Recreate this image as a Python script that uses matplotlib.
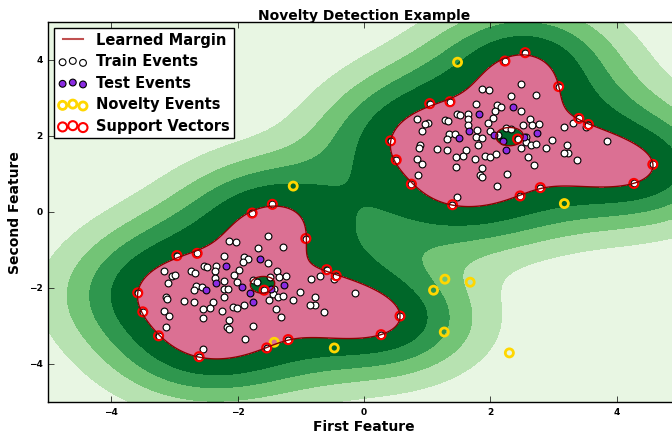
import numpy as np
import matplotlib
matplotlib.use('Agg')
import matplotlib.pyplot as plt
from matplotlib.lines import Line2D

plt.style.use('classic')

# ---- data ----
# support vectors (training events lying on the margin)
sv_x = [2.55, 2.23, 3.08, 1.04, 1.36, 3.40, 3.55, 0.42, 0.51, 0.75, 1.40, 2.47, 2.79, 4.27, 4.57, 2.43,
        -1.45, -1.77, -0.92, -2.96, -2.64, -0.59, -0.44, -3.58, -3.50, -3.25, -2.61, -1.54, -1.20, 0.27, 0.57, -1.58]
sv_y = [4.20, 3.98, 3.31, 2.86, 2.91, 2.47, 2.31, 1.88, 1.38, 0.74, 0.20, 0.43, 0.65, 0.76, 1.26, 1.93,
        0.21, -0.02, -0.69, -1.14, -1.08, -1.51, -1.67, -2.12, -2.62, -3.25, -3.80, -3.57, -3.35, -3.22, -2.73, -2.05]

# other training events
train_x = [2.48, 1.87, 1.97, 2.33, 2.72, 1.78, 2.10, 2.16, 2.08, 2.48, 0.84, 1.01, 0.97, 1.28, 1.33, 1.47,
           1.52, 1.65, 1.64, 2.04, 1.96, 1.65, 2.52, 2.63, 2.66, 2.77, 3.16, 3.30, 3.52, 0.91, 1.35, 1.44,
           1.32, 1.79, 1.99, 2.25, 2.33, 2.12, 1.78, 1.86, 2.57, 2.56, 2.65, 2.72, 2.98, 2.88, 3.21, 3.23,
           3.16, 3.37, 3.84, 0.89, 0.87, 1.15, 1.32, 1.61, 1.80, 1.57, 1.45, 1.75, 1.92, 2.00, 2.09, 2.49,
           2.60, 2.69, 0.84, 0.92, 1.45, 1.87, 1.83, 1.87, 2.26, 2.11, 1.47, 0.86,
           -1.52, -2.13, -2.03, -1.68, -1.28, -2.22, -1.90, -1.84, -1.92, -1.52, -3.17, -3.04, -2.99, -2.73,
           -2.68, -2.53, -2.48, -2.34, -2.36, -1.97, -2.05, -2.36, -1.49, -1.38, -1.34, -1.24, -0.84, -0.70,
           -0.47, -3.10, -2.66, -2.56, -2.69, -2.21, -2.01, -1.75, -1.69, -2.22, -2.15, -1.43, -1.44, -1.36,
           -1.28, -1.02, -1.13, -0.78, -0.77, -0.86, -0.64, -0.15, -3.13, -3.11, -2.85, -2.69, -2.39, -2.21,
           -2.43, -2.55, -2.24, -2.07, -2.01, -1.90, -1.51, -1.40, -1.31, -3.17, -3.09, -2.55, -2.14, -2.17,
           -2.13, -1.75, -1.88, -2.55, -3.14]
train_y = [3.37, 3.24, 3.21, 3.06, 3.08, 2.86, 2.82, 2.77, 2.67, 2.66, 2.45, 2.34, 2.32, 2.43, 2.40, 2.58,
           2.56, 2.60, 2.45, 2.49, 2.36, 2.29, 2.31, 2.46, 2.30, 2.32, 2.25, 2.35, 2.25, 2.14, 2.07, 2.06,
           1.94, 2.17, 2.15, 2.22, 2.20, 2.04, 1.97, 1.96, 1.97, 1.86, 1.76, 1.79, 1.90, 1.68, 1.76, 1.57,
           1.56, 1.38, 1.88, 1.76, 1.70, 1.67, 1.64, 1.63, 1.76, 1.48, 1.45, 1.41, 1.49, 1.46, 1.54, 1.68,
           1.45, 1.25, 1.41, 1.27, 1.20, 1.17, 0.98, 0.94, 1.00, 0.68, 0.39, 0.97,
           -0.63, -0.76, -0.79, -0.93, -0.92, -1.15, -1.17, -1.23, -1.32, -1.33, -1.55, -1.68, -1.65, -1.55,
           -1.60, -1.41, -1.43, -1.40, -1.55, -1.51, -1.65, -1.73, -1.71, -1.55, -1.69, -1.68, -1.75, -1.67,
           -1.75, -1.87, -1.93, -1.96, -2.05, -1.81, -1.83, -1.78, -1.83, -2.03, -2.02, -2.03, -2.16, -2.24,
           -2.20, -2.09, -2.32, -2.23, -2.43, -2.44, -2.62, -2.12, -2.23, -2.29, -2.33, -2.36, -2.37, -2.23,
           -2.52, -2.54, -2.59, -2.49, -2.53, -2.45, -2.32, -2.55, -2.76, -2.59, -2.72, -2.79, -2.83, -3.01,
           -3.08, -2.99, -3.33, -3.61, -3.03]

# test events
test_x = [1.82, 2.35, 1.66, 1.50, 2.06, 2.20, 2.24, 2.53, 2.74,
          -2.18, -1.65, -2.34, -2.50, -1.93, -1.80, -1.76, -1.47, -1.26]
test_y = [2.60, 2.76, 2.15, 1.96, 2.04, 1.88, 1.64, 1.99, 2.09,
          -1.40, -1.24, -1.85, -2.04, -1.96, -2.13, -2.36, -2.01, -1.90]

# novelty events
novel_x = [3.17, 1.28, 1.10, 1.68, 1.27, 2.30, 1.48, -1.42, -0.47, -1.12]
novel_y = [0.23, -1.76, -2.05, -1.84, -3.15, -3.70, 3.95, -3.42, -3.57, 0.69]

gamma = 0.5

# ---- decision surface: rbf kernel on the support vectors ----
sx = np.array(sv_x)
sy = np.array(sv_y)
K = np.exp(-gamma * ((sx[:, None] - sx[None, :])**2 + (sy[:, None] - sy[None, :])**2))
# non-negative weights so that the surface is ~1 on every support vector
alpha = np.ones(len(sx))
target = np.ones(len(sx))
for i in range(2000):
    alpha *= (K.T @ target) / (K.T @ K @ alpha + 1e-12)

xx, yy = np.meshgrid(np.linspace(-5, 5, 500), np.linspace(-5, 5, 500))
Z = np.zeros_like(xx)
for a, b, w in zip(sx, sy, alpha):
    Z += w * np.exp(-gamma * ((xx - a)**2 + (yy - b)**2))
Z = Z - 1.0

greens = ['#e8f6e3', '#b7e2b1', '#73c476', '#2f974e', '#006729']

fig = plt.figure(figsize=(6.72, 4.37), dpi=100)
ax = fig.add_axes([48/672., 34.7/437., 632/672., 380/437.])

ax.contourf(xx, yy, Z, levels=np.linspace(Z.min(), 0, 6), colors=greens)
ax.contourf(xx, yy, Z, levels=[0, Z.max()], colors='palevioletred')

ax.scatter(train_x + sv_x, train_y + sv_y, c='white', s=24, edgecolors='k', linewidths=0.8, zorder=3)
ax.scatter(test_x, test_y, c='blueviolet', s=24, edgecolors='k', linewidths=0.8, zorder=3)
ax.scatter(novel_x, novel_y, c='none', s=34, edgecolors='gold', linewidths=2, zorder=3)
ax.scatter(sv_x, sv_y, c='none', s=42, edgecolors='red', linewidths=1.5, zorder=4)
ax.contour(xx, yy, Z, levels=[0], linewidths=1, colors='darkred', zorder=5)

handles = [Line2D([], [], color='#c05050', lw=1.5),
           plt.scatter([], [], c='white', s=24, edgecolors='k', linewidths=0.8),
           plt.scatter([], [], c='blueviolet', s=24, edgecolors='k', linewidths=0.8),
           plt.scatter([], [], c='none', s=34, edgecolors='gold', linewidths=2),
           plt.scatter([], [], c='none', s=42, edgecolors='red', linewidths=1.5)]
labels = ['Learned Margin', 'Train Events', 'Test Events', 'Novelty Events', 'Support Vectors']
leg = ax.legend(handles, labels, loc='upper left', prop={'weight': 'bold', 'size': 10.5},
                borderaxespad=0.4, borderpad=0.3, handletextpad=0.6, labelspacing=0.45)
leg.get_frame().set_edgecolor('k')

ax.set_xlim(-5, 5)
ax.set_ylim(-5, 5)
ax.set_xticks([-4, -2, 0, 2, 4])
ax.set_yticks([-4, -2, 0, 2, 4])
for lab in ax.get_xticklabels() + ax.get_yticklabels():
    lab.set_fontweight('bold')
    lab.set_fontsize(6.5)
ax.set_xlabel('First Feature', fontsize=10, fontweight='bold', labelpad=2)
ax.set_ylabel('Second Feature', fontsize=10, fontweight='bold')
ax.set_title('Novelty Detection Example', fontsize=10, fontweight='bold', pad=2)

fig.savefig('out.png', dpi=100, facecolor='white')
